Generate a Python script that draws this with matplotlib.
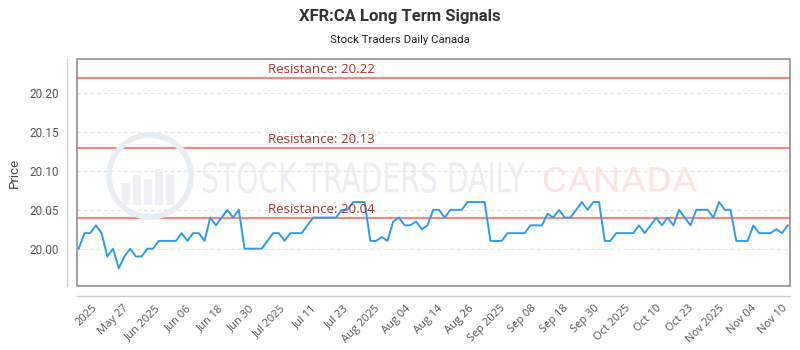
import numpy as np
import matplotlib
matplotlib.use("Agg")
import matplotlib.pyplot as plt
from matplotlib.patches import Ellipse, Rectangle, PathPatch
from matplotlib.textpath import TextPath
from matplotlib.font_manager import FontProperties
from matplotlib.transforms import Affine2D, IdentityTransform

# closing prices, one per trading day
prices = [
    20.00, 20.02, 20.02, 20.03, 20.02, 19.99, 20.00, 19.975, 19.99, 20.00,
    19.99, 19.99, 20.00, 20.00, 20.01, 20.01, 20.01, 20.01, 20.02, 20.01,
    20.02, 20.02, 20.01, 20.04, 20.03, 20.04, 20.05, 20.04, 20.05, 20.00,
    20.00, 20.00, 20.00, 20.01, 20.02, 20.02, 20.01, 20.02, 20.02, 20.02,
    20.03, 20.04, 20.04, 20.04, 20.04, 20.04, 20.05, 20.05, 20.06, 20.06,
    20.06, 20.01, 20.01, 20.015, 20.01, 20.035, 20.04, 20.03, 20.03, 20.035,
    20.025, 20.03, 20.05, 20.05, 20.04, 20.05, 20.05, 20.05, 20.06, 20.06,
    20.06, 20.06, 20.01, 20.01, 20.01, 20.02, 20.02, 20.02, 20.02, 20.03,
    20.03, 20.03, 20.045, 20.04, 20.05, 20.04, 20.04, 20.05, 20.06, 20.05,
    20.06, 20.06, 20.01, 20.01, 20.02, 20.02, 20.02, 20.02, 20.03, 20.02,
    20.03, 20.04, 20.03, 20.04, 20.03, 20.05, 20.04, 20.03, 20.05, 20.05,
    20.05, 20.04, 20.06, 20.05, 20.05, 20.01, 20.01, 20.01, 20.03, 20.02,
    20.02, 20.02, 20.025, 20.02, 20.03,
]

tick_labels = [
    "2025", "May 27", "Jun 2025", "Jun 06", "Jun 18", "Jun 30", "Jul 2025",
    "Jul 11", "Jul 23", "Aug 2025", "Aug 04", "Aug 14", "Aug 26", "Sep 2025",
    "Sep 08", "Sep 18", "Sep 30", "Oct 2025", "Oct 10", "Oct 23", "Nov 2025",
    "Nov 04", "Nov 10",
]

resistance_levels = [20.22, 20.13, 20.04]
y_ticks = [20.00, 20.05, 20.10, 20.15, 20.20]

LINE_COLOR = "#2b9cf2"
RES_COLOR = "#f08a84"
RES_TEXT = "#b0302c"


def stretched_text(fig, text, box, color, family):
    # draw text as a path squeezed into a pixel box (x0, y0, x1, y1), y from top
    tp = TextPath((0, 0), text, size=10, prop=FontProperties(family=family))
    ext = tp.get_extents()
    x0, y0, x1, y1 = box
    sx = (x1 - x0) / ext.width
    sy = (y1 - y0) / ext.height
    tr = (Affine2D().translate(-ext.x0, -ext.y0).scale(sx, sy)
          .translate(x0, 350 - y1))
    fig.patches.append(PathPatch(tr.transform_path(tp), transform=IdentityTransform(),
                                 facecolor=color, edgecolor="none", zorder=0))


fig = plt.figure(figsize=(8, 3.5), dpi=100)
ax = fig.add_axes([0.09625, 0.1829, 0.89125, 0.6485])

# watermark logo + text
fig.patches.append(Ellipse((150 / 800, 1 - 176 / 350), 82 / 800, 82 / 350,
                           transform=fig.transFigure, fill=False,
                           edgecolor="#e8edf4", linewidth=4, zorder=0))
bar_x = [122, 133, 144, 155, 166]
bar_h = [22, 30, 26, 36, 30]
for bx, bh in zip(bar_x, bar_h):
    fig.patches.append(Rectangle((bx / 800, 1 - 205 / 350), 8 / 800, bh / 350,
                                 transform=fig.transFigure, facecolor="#edf0f6",
                                 edgecolor="none", zorder=0))
stretched_text(fig, "STOCK TRADERS DAILY", (203, 162, 525, 193), "#e9edf4", "DejaVu Sans")
stretched_text(fig, "CANADA", (544, 167, 697, 192), "#fde4e1", "Roboto")
ax.patch.set_alpha(0)

# spines first: moving them rebuilds the ticks
for side in ["top", "right"]:
    ax.spines[side].set_visible(False)
for side in ["left", "bottom"]:
    ax.spines[side].set_position(("outward", 7))
    ax.spines[side].set_color("#cccccc")
    ax.spines[side].set_linewidth(1)

x = np.arange(len(prices))
ax.plot(x, prices, color=LINE_COLOR, linewidth=1.4, zorder=3)

for lvl in resistance_levels:
    ax.axhline(lvl, color=RES_COLOR, linewidth=1.6, zorder=2)
    ax.text(0.268, lvl + 0.0025, f"Resistance: {lvl:.2f}",
            transform=ax.get_yaxis_transform(), color=RES_TEXT,
            fontsize=9.5, family=["Open Sans", "DejaVu Sans"],
            ha="left", va="bottom", zorder=4)

ax.set_xlim(-0.3, len(prices) - 1 + 0.4)
ax.set_ylim(19.952, 20.244)

ax.tick_params(axis="both", length=0)
ax.tick_params(axis="y", pad=6)
ax.tick_params(axis="x", pad=5)

ax.set_yticks(y_ticks)
ax.set_yticklabels([f"{v:.2f}" for v in y_ticks], family=["Roboto", "DejaVu Sans"],
                   fontsize=8.5, color="#555555")
ax.yaxis.grid(True, linestyle=(0, (3, 3)), color="#e2e2e2", linewidth=0.8)
ax.set_axisbelow(True)

tick_pos = np.linspace(2.3, 123, len(tick_labels))
ax.set_xticks(tick_pos)
ax.set_xticklabels(tick_labels, rotation=45, ha="right", rotation_mode="anchor",
                   family=["Open Sans", "DejaVu Sans"], fontsize=8, color="#555555")

ax.add_patch(Rectangle((0, 0), 1, 1, transform=ax.transAxes, fill=False,
                       edgecolor="#888888", linewidth=1.1, zorder=5, clip_on=False))

ax.set_ylabel("Price", family=["Roboto", "DejaVu Sans"], fontsize=9.5, color="#444444",
              labelpad=6)

fig.text(0.5, 1 - 16 / 350, "XFR:CA Long Term Signals", ha="center", va="center",
         fontsize=12, fontweight="bold", family=["Roboto", "DejaVu Sans"], color="#333333")
fig.text(0.5, 1 - 40 / 350, "Stock Traders Daily Canada", ha="center", va="center",
         fontsize=8.2, family=["Roboto", "DejaVu Sans"], color="#222222")

fig.savefig("out.png", dpi=100)
